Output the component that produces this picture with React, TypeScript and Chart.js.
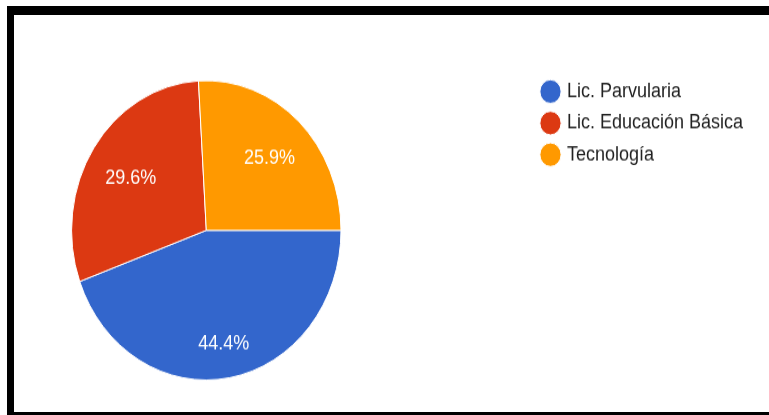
import React, { useEffect, useRef } from "react";
import { Chart, registerables } from "chart.js";

Chart.register(...registerables);

// ---- data ----
const categories = ["Lic. Parvularia", "Lic. Educación Básica", "Tecnología"];
const counts = [12, 8, 7];
const sliceColors = ["#3366cc", "#dc3912", "#ff9900"];

// ---- layout (unscaled canvas coordinates) ----
const W = 755;
const H = 357;
const FONT = "Arial, 'Liberation Sans', sans-serif";
const FONT_SIZE = 18;
const PIE_CX = 192.3;
const PIE_CY = 193.8;
const PIE_R = 134.7;
const LEG_PAD = 10.4;
const BOX = 15;
const LEG_LEFT = 518.6;
const LEG_TOP = 49.5;
const AREA_TOP = 55;
const LABEL_DY = 2.5;

function measureMaxLabel(): number {
  const c = document.createElement("canvas");
  const ctx = c.getContext("2d");
  if (!ctx) return 176;
  ctx.font = `${FONT_SIZE}px ${FONT}`;
  return Math.max(...categories.map((t) => ctx.measureText(t).width));
}

const moveLegend = {
  id: "moveLegend",
  afterLayout(chart: any) {
    const lg = chart.legend;
    if (!lg) return;
    const w = lg.width;
    const h = lg.height;
    lg.left = LEG_LEFT;
    lg.right = LEG_LEFT + w;
    lg.top = LEG_TOP;
    lg.bottom = LEG_TOP + h;
  },
};

const pctLabels = {
  id: "pctLabels",
  afterDatasetsDraw(chart: any) {
    const ctx = chart.ctx;
    const meta = chart.getDatasetMeta(0);
    const data = chart.data.datasets[0].data as number[];
    const total = data.reduce((a, b) => a + b, 0);
    ctx.save();
    ctx.font = `${FONT_SIZE}px ${FONT}`;
    ctx.fillStyle = "#ffffff";
    ctx.textAlign = "center";
    ctx.textBaseline = "middle";
    meta.data.forEach((arc: any, i: number) => {
      const { x, y, startAngle, endAngle, outerRadius } = arc.getProps(
        ["x", "y", "startAngle", "endAngle", "outerRadius"],
        true
      );
      const mid = (startAngle + endAngle) / 2;
      const ux = Math.cos(mid);
      const uy = Math.sin(mid);
      const text = ((data[i] / total) * 100).toFixed(1) + "%";
      const hw = ctx.measureText(text).width / 2;
      const hh = FONT_SIZE / 2;
      const cx = Math.sign(ux) * hw;
      const cy = Math.sign(uy) * hh;
      const reach = outerRadius * 0.867;
      const b = ux * cx + uy * cy;
      const c = cx * cx + cy * cy - reach * reach;
      const d = -b + Math.sqrt(b * b - c);
      ctx.fillText(text, x + ux * d, y + uy * d + LABEL_DY);
    });
    ctx.restore();
  },
};

export default function App() {
  const ref = useRef<HTMLCanvasElement | null>(null);

  useEffect(() => {
    if (!ref.current) return;
    const maxText = measureMaxLabel();
    const legendW = LEG_PAD + BOX + FONT_SIZE / 2 + maxText + 10;
    const padRight = W - 2 * PIE_CX - legendW;
    const padBottom = H - (2 * PIE_CY - AREA_TOP);

    const chart = new Chart(ref.current, {
      type: "pie",
      data: {
        labels: categories,
        datasets: [
          {
            data: counts,
            backgroundColor: sliceColors,
            borderColor: "#ffffff",
            borderWidth: 1,
          },
        ],
      },
      options: {
        responsive: false,
        maintainAspectRatio: false,
        animation: false,
        events: [],
        rotation: 90,
        radius: PIE_R,
        layout: {
          padding: { left: 0, right: padRight, top: AREA_TOP, bottom: padBottom },
        },
        plugins: {
          tooltip: { enabled: false },
          legend: {
            display: true,
            position: "right",
            align: "start",
            labels: {
              usePointStyle: true,
              pointStyle: "circle",
              boxWidth: BOX,
              boxHeight: BOX,
              padding: LEG_PAD,
              color: "#222222",
              font: { size: FONT_SIZE, family: FONT },
            },
          },
        },
      } as any,
      plugins: [moveLegend, pctLabels],
    });
    return () => chart.destroy();
  }, []);

  return (
    <div
      style={{
        position: "absolute",
        left: 0,
        top: 0,
        width: 769,
        height: 415,
        overflow: "hidden",
        background: "#ffffff",
      }}
    >
      <div
        style={{
          position: "absolute",
          left: 7,
          top: 6,
          width: 800,
          height: 414,
          boxSizing: "border-box",
          borderTop: "9px solid #000",
          borderLeft: "7px solid #000",
          borderBottom: "8px solid #000",
        }}
      />
      <div
        style={{
          position: "absolute",
          left: 14,
          top: 15,
          width: W,
          height: H,
          transform: "scaleY(1.1111)",
          transformOrigin: "0 0",
        }}
      >
        <canvas ref={ref} width={W} height={H} style={{ width: W, height: H, display: "block" }} />
      </div>
    </div>
  );
}
